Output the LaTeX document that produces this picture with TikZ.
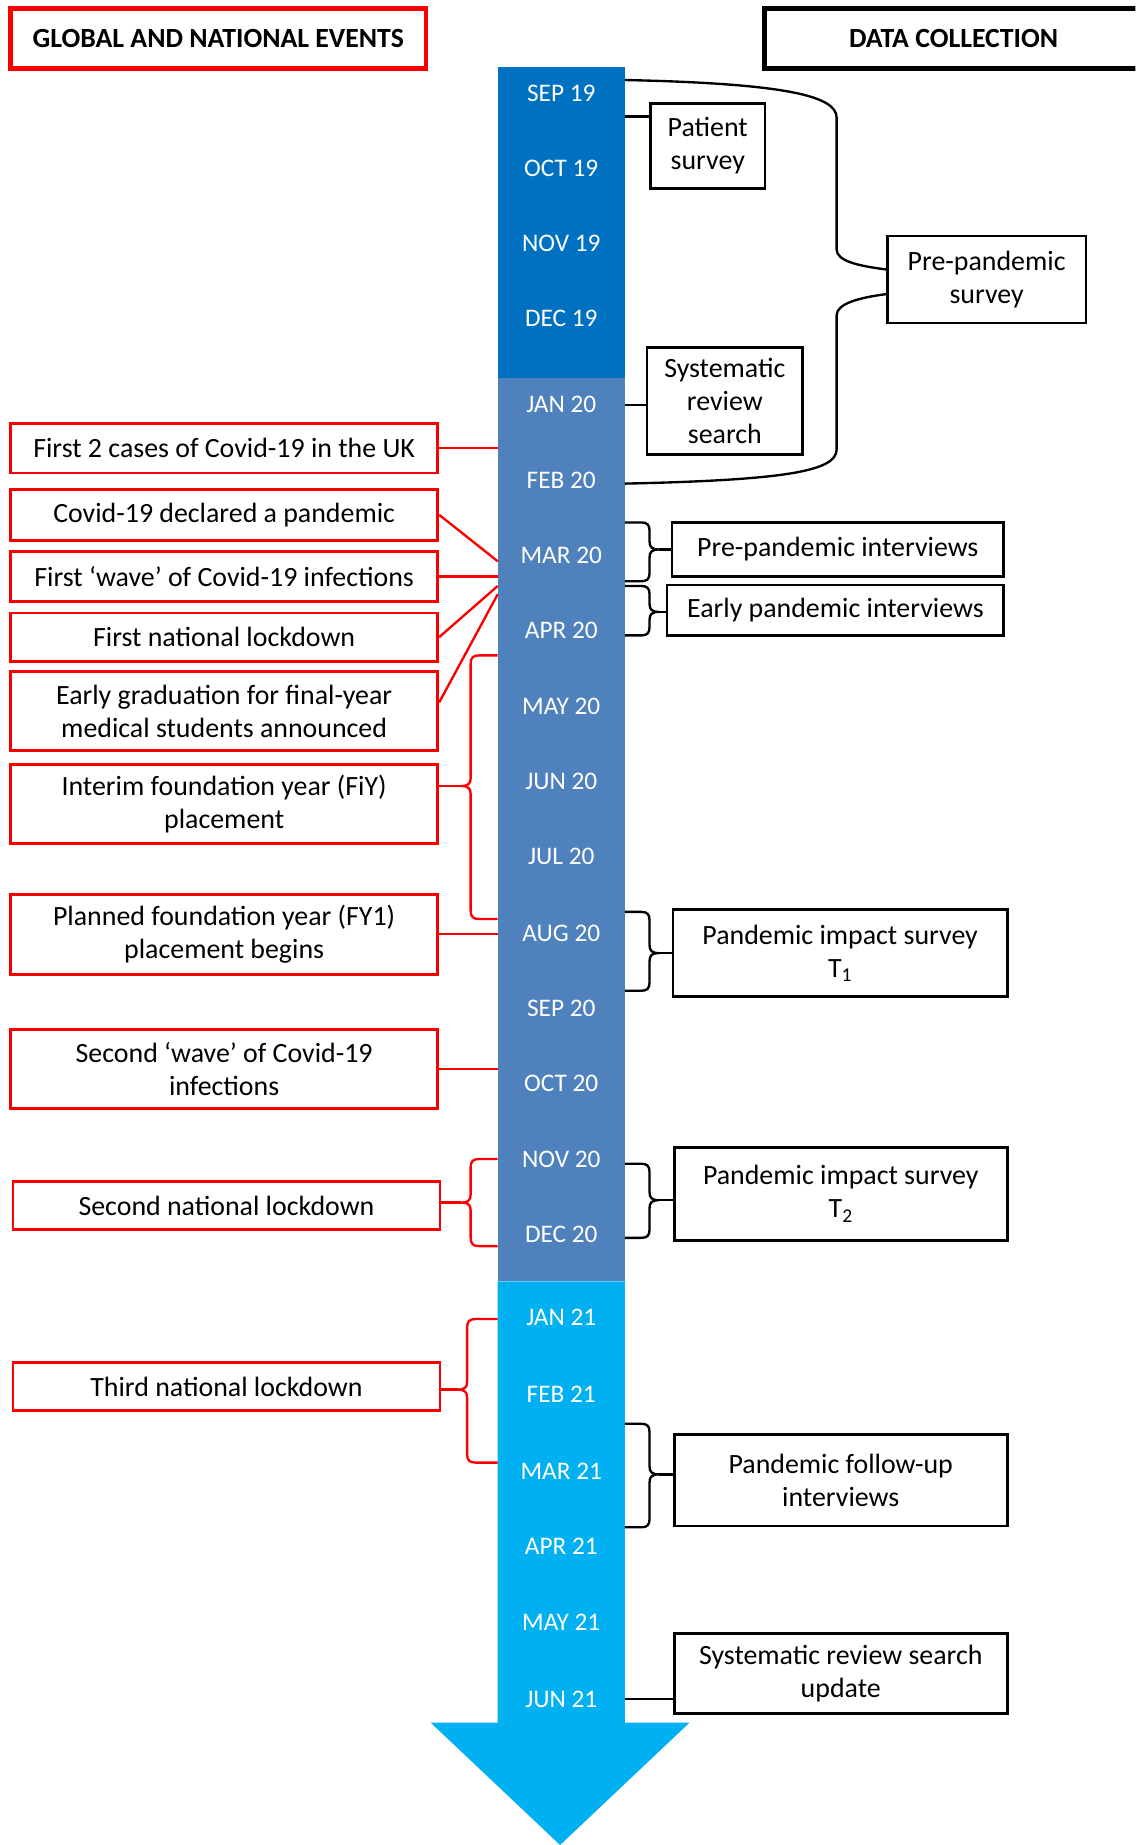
\documentclass[tikz,border=0pt]{standalone}
\usepackage{fontspec}
\setmainfont{Carlito}
\usetikzlibrary{calc}

\definecolor{evred}{RGB}{250,0,0}
\definecolor{bardark}{HTML}{0070C0}
\definecolor{barmid}{HTML}{4F81BD}
\definecolor{barlight}{HTML}{00B0F0}

\newcommand\evfont{\fontsize{23.7}{28}\selectfont}
\newcommand\monthfont{\fontsize{21.5}{26}\selectfont}

% curly brace from the bar edge (#2) to a spine (#3), spanning #4..#6 with its tip at #5;
% the tip is named #7
\newcommand\tlbrace[7]{%
  \pgfmathsetmacro\bs{(#3>#2)?1:-1}%
  \draw[#1] (#2,#4) -- ({#3-7*\bs},#4)
    .. controls ({#3-2*\bs},#4) and (#3,{#4+2}) .. (#3,{#4+7})
    -- (#3,{#5-7})
    .. controls (#3,{#5-2}) and ({#3+2*\bs},#5) .. ({#3+8*\bs},#5) coordinate (#7)
    .. controls ({#3+2*\bs},#5) and (#3,{#5+2}) .. (#3,{#5+7})
    -- (#3,{#6-7})
    .. controls (#3,{#6-2}) and ({#3-2*\bs},#6) .. ({#3-7*\bs},#6)
    -- (#2,#6);
}

\begin{document}
\begin{tikzpicture}[x=1pt,y=-1pt,
  evt/.style={draw=evred, line width=2.4pt, fill=white, align=center, inner sep=0pt,
              minimum width=363pt, font=\evfont},
  dat/.style={draw=black, line width=2.2pt, fill=white, align=center, inner sep=0pt,
              font=\evfont},
  hdr/.style={line width=4pt, inner sep=0pt, minimum height=51pt,
              font=\fontsize{23.6}{28}\selectfont\bfseries},
  month/.style={text=white, font=\monthfont, inner sep=0pt},
  redln/.style={draw=evred, line width=2pt},
  blk/.style={draw=black, line width=2pt}]

\clip (0,0) rectangle (965,1568);

% headings
\node[hdr, draw=evred, minimum width=353pt] (hdrL) at (185.5,32.5) {GLOBAL AND NATIONAL EVENTS};
\node[hdr, draw=black, minimum width=321pt] (hdrR) at (810.5,32.5) {DATA COLLECTION};

% the time arrow
\fill[bardark] (423,57) rectangle (531,321);
\fill[barmid] (423,321) rectangle (531,1089);
\fill[barlight] (423,1089) -- (531,1089) -- (531,1464) -- (586,1464) -- (476,1568)
  -- (366,1464) -- (423,1464) -- cycle;

\foreach \n/\t/\y in {sep19/SEP 19/79, oct19/OCT 19/143, nov19/NOV 19/207, dec19/DEC 19/271,
  jan20/JAN 20/344, feb20/FEB 20/408, mar20/MAR 20/472, apr20/APR 20/536,
  may20/MAY 20/600, jun20/JUN 20/664, jul20/JUL 20/728, aug20/AUG 20/793,
  sep20/SEP 20/857, oct20/OCT 20/921, nov20/NOV 20/985, dec20/DEC 20/1049,
  jan21/JAN 21/1120, feb21/FEB 21/1185, mar21/MAR 21/1250, apr21/APR 21/1314,
  may21/MAY 21/1379, jun21/JUN 21/1444}
  \node[month] (\n) at (477,\y) {\t};

\coordinate (barL) at (423,0);
\coordinate (hubA) at (423,477);
\coordinate (hubB) at (423,498);
\coordinate (hubC) at (423,505);

% events
\node[evt, minimum height=42pt] (first2) at (190.5,381) {First 2 cases of Covid-19 in the UK};
\node[evt, minimum height=43pt] (declared) at (190.5,437.5) {Covid-19 declared a pandemic};
\node[evt, minimum height=42pt] (wave1) at (190.5,490) {First ‘wave’ of Covid-19 infections};
\node[evt, minimum height=41pt] (lock1) at (190.5,541.5) {First national lockdown};
\node[evt, minimum height=67pt] (earlygrad) at (190.5,604.5) {Early graduation for final-year\\medical students announced};
\node[evt, minimum height=67pt] (fiy) at (190.5,683.5) {Interim foundation year (FiY)\\placement};
\node[evt, minimum height=68pt] (fy1) at (190.5,794) {Planned foundation year (FY1)\\placement begins};
\node[evt, minimum height=67pt] (wave2) at (190.5,908.5) {Second ‘wave’ of Covid-19\\infections};
\node[evt, minimum height=41pt] (lock2) at (192.5,1024.5) {Second national lockdown};
\node[evt, minimum height=41pt] (lock3) at (192.5,1178.5) {Third national lockdown};

\draw[redln] (first2.east) -- (first2.east -| barL);
\draw[redln] (declared.east) -- (hubA);
\draw[redln] (wave1.east) -- (wave1.east -| barL);
\draw[redln] (lock1.east) -- (hubB);
\draw[redln] ([yshift=7.5pt]earlygrad.east) -- (hubC);
\tlbrace{redln}{423}{400}{557}{668}{781}{fiyTip}
\draw[redln] (fiyTip) -- (fiyTip -| fiy.east);
\draw[redln] (fy1.east) -- (fy1.east -| barL);
\draw[redln] (wave2.east) -- (wave2.east -| barL);
\tlbrace{redln}{423}{400}{985}{1022}{1059}{lockTwoTip}
\draw[redln] (lockTwoTip) -- (lockTwoTip -| lock2.east);
\tlbrace{redln}{423}{397}{1121}{1181}{1243}{lockThreeTip}
\draw[redln] (lockThreeTip) -- (lockThreeTip -| lock3.east);

% data collection
\node[dat, minimum width=97pt, minimum height=72pt] (patient) at (601.5,124) {Patient\\survey};
\node[dat, minimum width=169pt, minimum height=74pt] (prepsurvey) at (838.5,237.5) {Pre-pandemic\\survey};
\node[dat, minimum width=132pt, minimum height=91pt] (sysrev) at (616,341) {Systematic\\review\\search};
\node[dat, minimum width=282pt, minimum height=46pt] (preint) at (712,467) {Pre-pandemic interviews};
\node[dat, minimum width=286pt, minimum height=43pt] (earlyint) at (710,518.5) {Early pandemic interviews};
\node[dat, minimum width=284pt, minimum height=74pt] (tone) at (714,810) {Pandemic impact survey\\T\textsubscript{1}};
\node[dat, minimum width=283pt, minimum height=79pt] (ttwo) at (714.5,1014.5) {Pandemic impact survey\\T\textsubscript{2}};
\node[dat, minimum width=283pt, minimum height=78pt] (followup) at (714.5,1258) {Pandemic follow-up\\interviews};
\node[dat, minimum width=283pt, minimum height=68pt] (srupdate) at (714.5,1422) {Systematic review search\\update};

\coordinate (patR) at (531,99);
\coordinate (srR) at (531,344);
\coordinate (updR) at (531,1444);
\coordinate (preTop) at (531,68);
\coordinate (preBot) at (531,411);

\draw[blk] (patR) -- (patR -| patient.west);
\draw[blk] (srR) -- (srR -| sysrev.west);
\draw[blk] (updR) -- (updR -| srupdate.west);

% pre-pandemic survey bracket spanning Sep 19 to Feb 20
\draw[blk] (preTop) .. controls (670,71) and (711,82) .. (711,100) -- (711,212)
  .. controls (711,222) and (730,226) .. (prepsurvey.west |- 0,229);
\draw[blk] (prepsurvey.west |- 0,250) .. controls (730,253) and (711,258) .. (711,268)
  -- (711,382) .. controls (711,400) and (670,408) .. (preBot);

\tlbrace{blk}{531}{552}{444}{467}{494}{preintTip}
\draw[blk] (preintTip) -- (preintTip -| preint.west);
\tlbrace{blk}{531}{552}{498}{520}{540}{earlyTip}
\draw[blk] (earlyTip) -- (earlyTip -| earlyint.west);
\tlbrace{blk}{531}{552}{775}{810}{842}{toneTip}
\draw[blk] (toneTip) -- (toneTip -| tone.west);
\tlbrace{blk}{531}{552}{989}{1020}{1052}{ttwoTip}
\draw[blk] (ttwoTip) -- (ttwoTip -| ttwo.west);
\tlbrace{blk}{531}{552}{1210}{1253}{1298}{followTip}
\draw[blk] (followTip) -- (followTip -| followup.west);

\end{tikzpicture}
\end{document}
